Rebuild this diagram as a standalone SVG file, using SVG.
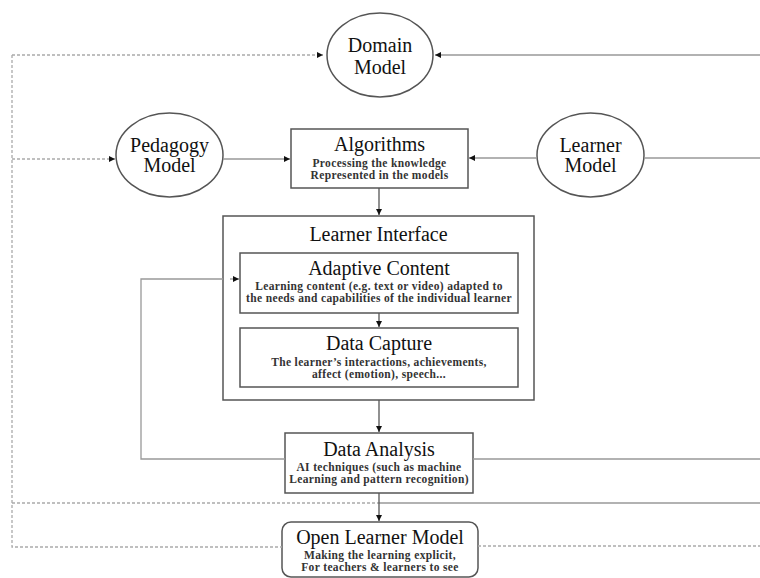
<svg xmlns="http://www.w3.org/2000/svg" width="760" height="578" viewBox="0 0 760 578">
  <style>
    .node { fill: #fff; stroke: #555; stroke-width: 1.5; }
    .title { font-family: "Liberation Serif", serif; font-size: 20px; fill: #111; text-anchor: middle; }
    .sub { font-family: "Liberation Serif", serif; font-size: 11.5px; font-weight: bold; letter-spacing: 0.35px; fill: #333; text-anchor: middle; }
    .solid { fill: none; stroke: #999; stroke-width: 1.3; }
    .dash { fill: none; stroke: #aaa; stroke-width: 1.3; stroke-dasharray: 3 2; }
    .flow { fill: none; stroke: #555; stroke-width: 1.3; }
  </style>
  <defs>
    <marker id="arrow" viewBox="0 0 10 10" refX="10" refY="5" markerWidth="6" markerHeight="6" markerUnits="userSpaceOnUse" orient="auto">
      <path d="M0,0 L10,5 L0,10 z" fill="#111"/>
    </marker>
  </defs>
  <rect width="760" height="578" fill="#fff"/>

  <g id="domain-model">
    <ellipse class="node" cx="380" cy="55" rx="53" ry="42"/>
    <text class="title" x="380" y="52">Domain</text>
    <text class="title" x="380" y="74">Model</text>
  </g>

  <g id="pedagogy-model">
    <ellipse class="node" cx="169.5" cy="155" rx="53.5" ry="42"/>
    <text class="title" x="169.5" y="152">Pedagogy</text>
    <text class="title" x="169.5" y="172">Model</text>
  </g>

  <g id="learner-model">
    <ellipse class="node" cx="590.5" cy="155" rx="53.5" ry="42"/>
    <text class="title" x="590.5" y="152">Learner</text>
    <text class="title" x="590.5" y="172">Model</text>
  </g>

  <g id="algorithms">
    <rect class="node" x="291" y="129" width="177" height="59"/>
    <text class="title" x="379.5" y="151">Algorithms</text>
    <text class="sub" x="379.5" y="167">Processing the knowledge</text>
    <text class="sub" x="379.5" y="179">Represented in the models</text>
  </g>

  <g id="learner-interface">
    <rect class="node" x="223" y="216" width="311" height="184"/>
    <text class="title" x="378.5" y="241">Learner Interface</text>
  </g>

  <g id="adaptive-content">
    <rect class="node" x="240" y="253" width="278" height="60"/>
    <text class="title" x="379" y="275">Adaptive Content</text>
    <text class="sub" x="379" y="290">Learning content (e.g. text or video) adapted to</text>
    <text class="sub" x="379" y="302">the needs and capabilities of the individual learner</text>
  </g>

  <g id="data-capture">
    <rect class="node" x="240" y="328" width="278" height="59"/>
    <text class="title" x="379" y="350">Data Capture</text>
    <text class="sub" x="379" y="366">The learner’s interactions, achievements,</text>
    <text class="sub" x="379" y="378">affect (emotion), speech...</text>
  </g>

  <g id="data-analysis">
    <rect class="node" x="285" y="433" width="188" height="60"/>
    <text class="title" x="379" y="456">Data Analysis</text>
    <text class="sub" x="379" y="471">AI techniques (such as machine</text>
    <text class="sub" x="379" y="483">Learning and pattern recognition)</text>
  </g>

  <g id="open-learner-model">
    <rect class="node" x="282" y="522" width="196" height="55" rx="9"/>
    <text class="title" x="380" y="544">Open Learner Model</text>
    <text class="sub" x="380" y="559">Making the learning explicit,</text>
    <text class="sub" x="380" y="571">For teachers &amp; learners to see</text>
  </g>

  <g id="connectors">
    <!-- outer dashed loop on the left -->
    <path class="dash" d="M12,55 H323" marker-end="url(#arrow)"/>
    <path class="dash" d="M12,55 V547 H282"/>
    <path class="dash" d="M12,159 H115" marker-end="url(#arrow)"/>
    <path class="dash" d="M12,503 H379"/>
    <!-- lines running off the right edge -->
    <path class="solid" d="M760,55 H435" marker-end="url(#arrow)"/>
    <path class="solid" d="M644,158 H760"/>
    <path class="solid" d="M473,459 H760"/>
    <path class="solid" d="M379,503 H760"/>
    <path class="dash" d="M478,546 H760"/>
    <!-- model inputs to the algorithms -->
    <path class="solid" d="M223,159 H290" marker-end="url(#arrow)"/>
    <path class="solid" d="M537,158 H469" marker-end="url(#arrow)"/>
    <!-- main vertical flow -->
    <path class="flow" d="M379,188 V215" marker-end="url(#arrow)"/>
    <path class="flow" d="M379,313 V327" marker-end="url(#arrow)"/>
    <path class="flow" d="M379,400 V432" marker-end="url(#arrow)"/>
    <path class="flow" d="M379,493 V521" marker-end="url(#arrow)"/>
    <!-- feedback from analysis into adaptive content -->
    <path class="solid" d="M285,459 H141 V279 H223"/>
    <path class="solid" d="M230,279 H239" marker-end="url(#arrow)"/>
  </g>
</svg>
